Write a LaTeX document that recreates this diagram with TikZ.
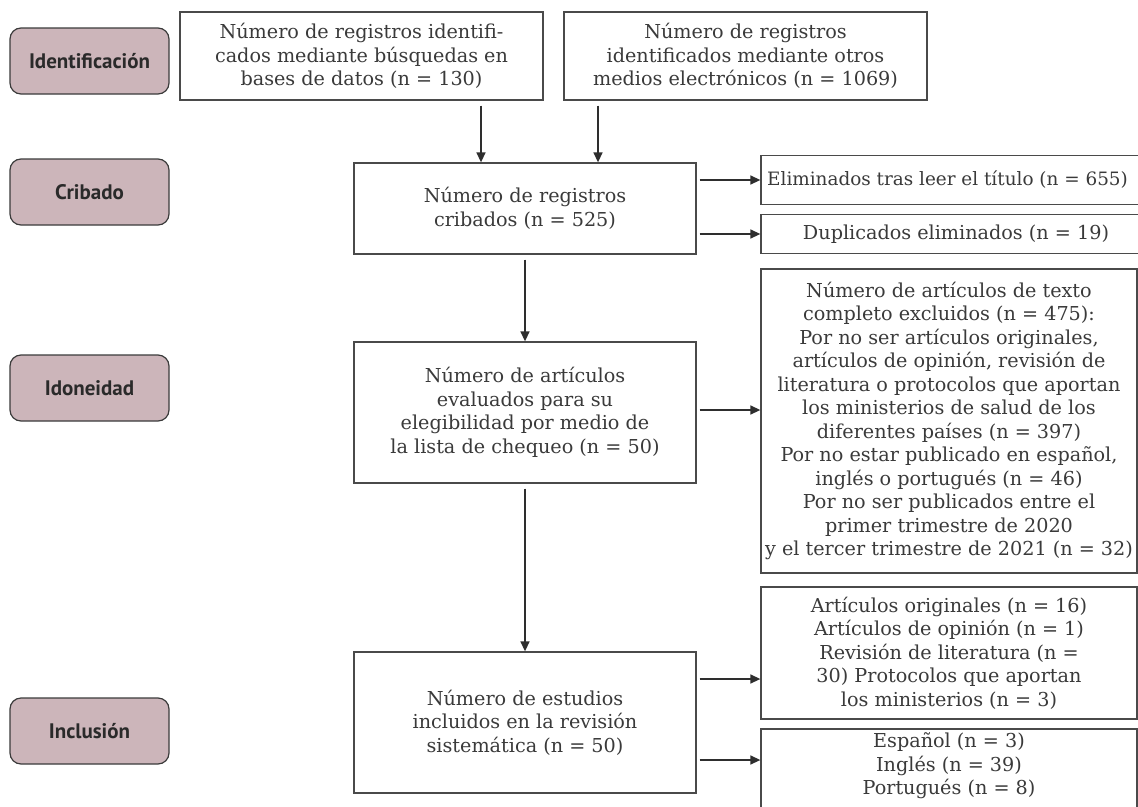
\documentclass[tikz,border=0pt]{standalone}
\usepackage{fontspec}
\setmainfont{DejaVu Serif}
\newfontfamily\phasefont{PT Sans}
\usetikzlibrary{arrows.meta}
\definecolor{txt}{HTML}{3A3A3A}
\definecolor{boxborder}{HTML}{4A4A4A}
\definecolor{phasefill}{HTML}{CCB5BA}
\definecolor{phaseborder}{HTML}{3B3B3B}
\definecolor{phasetext}{HTML}{2A2A2A}
\definecolor{arrowc}{HTML}{2E2E2E}
\begin{document}
\begin{tikzpicture}[x=1pt,y=-1pt,
  phase/.style={draw=phaseborder, fill=phasefill, rounded corners=11pt, line width=1.2pt,
    minimum width=159pt, minimum height=66pt, inner sep=0pt, text=phasetext,
    font=\phasefont\bfseries\fontsize{21}{23}\selectfont},
  flow/.style={draw=boxborder, line width=1.3pt, inner sep=0pt, align=center, text=txt,
    font=\fontsize{19.2}{23.5}\selectfont},
  plain/.style={inner sep=0pt, text=txt, font=\fontsize{19.2}{23.5}\selectfont},
  arr/.style={-{Triangle[length=10pt,width=9pt]}, line width=1.4pt, draw=arrowc}]
\useasboundingbox (0,0) rectangle (1138,806);
\fill[white] (0,0) rectangle (1138,806);

% phase labels
\node[phase] (p1) at (89.5,61) {Identificación};
\node[phase] (p2) at (89.5,192) {Cribado};
\node[phase] (p3) at (89.5,388) {Idoneidad};
\node[phase] (p4) at (89.5,731) {Inclusión};

% main flow
\node[flow, minimum width=363pt, minimum height=88pt] (A) at (361.5,56)
  {Número de registros identifi-\\cados mediante búsquedas en\\bases de datos (n = 130)};
\node[flow, minimum width=363pt, minimum height=88pt] (B) at (745.5,56)
  {Número de registros\\identificados mediante otros\\medios electrónicos (n = 1069)};
\node[flow, minimum width=342pt, minimum height=91pt] (C) at (525,208.5)
  {Número de registros\\cribados (n = 525)};
\node[flow, minimum width=342pt, minimum height=141pt] (D) at (525,412.5)
  {Número de artículos\\evaluados para su\\elegibilidad por medio de\\la lista de chequeo (n = 50)};
\node[flow, minimum width=342pt, minimum height=141pt] (G) at (525,722.5)
  {Número de estudios\\incluidos en la revisión\\sistemática (n = 50)};

% right column
\node[flow, minimum width=390pt, minimum height=49pt] (E1) at (956,180) {};
\node[plain, anchor=west, font=\fontsize{18.4}{23.5}\selectfont] (E1t) at (767,180) {Eliminados tras leer el título (n = 655)};
\node[flow, minimum width=390pt, minimum height=39pt] (E2) at (956,234) {Duplicados eliminados (n = 19)};
\node[flow, minimum width=376pt, minimum height=304pt] (F) at (949,421)
  {Número de artículos de texto\\completo excluidos (n = 475):\\Por no ser artículos originales,\\artículos de opinión, revisión de\\literatura o protocolos que aportan\\los ministerios de salud de los\\diferentes países (n = 397)\\Por no estar publicado en español,\\inglés o portugués (n = 46)\\Por no ser publicados entre el\\primer trimestre de 2020\\y el tercer trimestre de 2021 (n = 32)};
\node[flow, minimum width=376pt, minimum height=132pt] (H) at (949,653)
  {Artículos originales (n = 16)\\Artículos de opinión (n = 1)\\Revisión de literatura (n =\\30) Protocolos que aportan\\los ministerios (n = 3)};
\node[draw=boxborder, line width=1.3pt, minimum width=376pt, minimum height=100pt, inner sep=0pt] (I) at (949,779) {};
\node[plain, align=center] (It) at (949,766)
  {Español (n = 3)\\Inglés (n = 39)\\Portugués (n = 8)};

% connectors
\coordinate (xa) at (481,0);
\coordinate (xb) at (598,0);
\coordinate (yf) at (0,410);
\coordinate (yh) at (0,679);
\coordinate (yi) at (0,760);
\draw[arr] ([yshift=-5pt]A.south -| xa) -- (C.north -| xa);
\draw[arr] ([yshift=-5pt]B.south -| xb) -- (C.north -| xb);
\draw[arr] ([xshift=3pt]C.east |- E1.west) -- (E1.west);
\draw[arr] ([xshift=3pt]C.east |- E2.west) -- (E2.west);
\draw[arr] ([yshift=-5pt]C.south) -- (D.north);
\draw[arr] ([xshift=3pt]D.east |- yf) -- (F.west |- yf);
\draw[arr] ([yshift=-5pt]D.south) -- (G.north);
\draw[arr] ([xshift=3pt]G.east |- yh) -- (H.west |- yh);
\draw[arr] ([xshift=3pt]G.east |- yi) -- (I.west |- yi);
\end{tikzpicture}
\end{document}
